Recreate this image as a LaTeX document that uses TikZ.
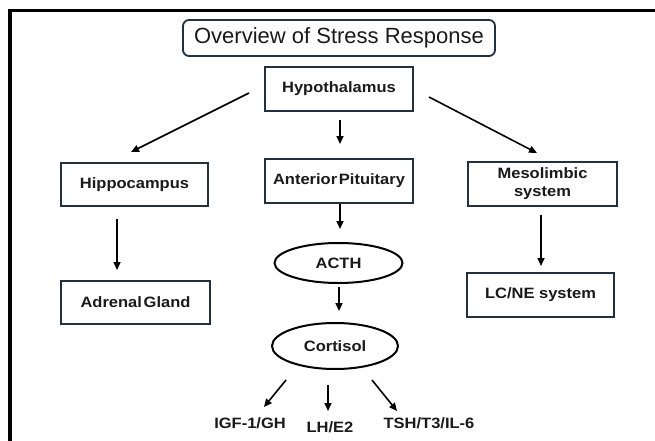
\documentclass[tikz,border=0pt]{standalone}
\usepackage{fontspec}
\setmainfont{Liberation Sans}
\newfontfamily\bx{Liberation Sans}[FakeStretch=1.1]
\usetikzlibrary{arrows.meta,shapes.geometric}
\definecolor{edgecol}{HTML}{22313F}
\definecolor{txtcol}{HTML}{1A1A1A}
\tikzset{
  stepbox/.style={draw=edgecol, line width=2pt, fill=white, inner sep=0pt,
    font=\bx\bfseries\fontsize{15}{18}\selectfont, text=txtcol, align=center},
  titlebox/.style={draw=edgecol, line width=1.8pt, rounded corners=6pt, fill=white,
    inner sep=0pt, minimum width=312pt, minimum height=36pt,
    font=\fontsize{22}{26}\selectfont, text=txtcol},
  oval/.style={draw=black, line width=2pt, ellipse, inner sep=0pt, fill=white,
    font=\bx\bfseries\fontsize{15}{18}\selectfont, text=txtcol},
  lbl/.style={inner sep=0pt, font=\bx\bfseries\fontsize{15}{18}\selectfont, text=txtcol},
  arr/.style={draw=black, line width=1.6pt, -{Triangle[length=8pt,width=7pt]}},
}
\begin{document}
\begin{tikzpicture}[x=1pt,y=-1pt]
\useasboundingbox (0,0) rectangle (655,441);
\fill[white] (0,0) rectangle (655,441);
% frame
\draw[line width=3.5pt] (655,10.5) -- (10,10.5) -- (10,441);

\node[titlebox] (title) at (339,38) {Overview of Stress Response};

\node[stepbox, minimum width=148pt, minimum height=44pt] (hyp) at (339,89) {Hypothalamus};
\node[stepbox, minimum width=147pt, minimum height=43pt] (hip) at (134.5,184.5) {Hippocampus};
\node[stepbox, minimum width=148pt, minimum height=44pt] (ap) at (339,181) {Anterior\hspace{0.12em}Pituitary};
\node[stepbox, minimum width=149pt, minimum height=44pt] (meso) at (542.5,184) {Mesolimbic\\system};
\node[stepbox, minimum width=149pt, minimum height=43pt] (adr) at (135.5,302.5) {Adrenal\hspace{0.12em}Gland};
\node[stepbox, minimum width=147pt, minimum height=44pt] (lcne) at (540.5,295) {LC/NE system};

\node[oval, minimum width=128pt, minimum height=40pt] (acth) at (338.5,263) {ACTH};
\node[oval, minimum width=126pt, minimum height=46pt] (cort) at (335,346) {Cortisol};

\node[lbl] (igf) at (250,423) {IGF-1/GH};
\node[lbl] (lh) at (330,427) {LH/E2};
\node[lbl] (tsh) at (429,423) {TSH/T3/IL-6};

% connectors
\draw[arr] ([shift={(-15,4)}]hyp.west) -- ([shift={(-3.5,-10)}]hip.north);
\draw[arr] ([shift={(1,8)}]hyp.south) -- ([shift={(1,-14)}]ap.north);
\draw[arr] ([shift={(15,8)}]hyp.east) -- ([shift={(-5.5,-8)}]meso.north);
\draw[arr] ([shift={(-17.5,12)}]hip.south) -- ([shift={(-18.5,-10)}]adr.north);
\draw[arr] ([shift={(1,0)}]ap.south) -- ([shift={(1.5,-13)}]acth.north);
\draw[arr] ([shift={(-1.5,8)}]meso.south) -- ([shift={(0.5,-6)}]lcne.north);
\draw[arr] ([shift={(0.5,3)}]acth.south) -- ([shift={(4,-11)}]cort.north);
\draw[arr] ([shift={(-49,10)}]cort.south) -- ([shift={(14,-16)}]igf.center);
\draw[arr] ([shift={(-7,15)}]cort.south) -- ([shift={(-2,-16)}]lh.center);
\draw[arr] ([shift={(37,10)}]cort.south) -- ([shift={(-32,-12)}]tsh.center);
\end{tikzpicture}
\end{document}
